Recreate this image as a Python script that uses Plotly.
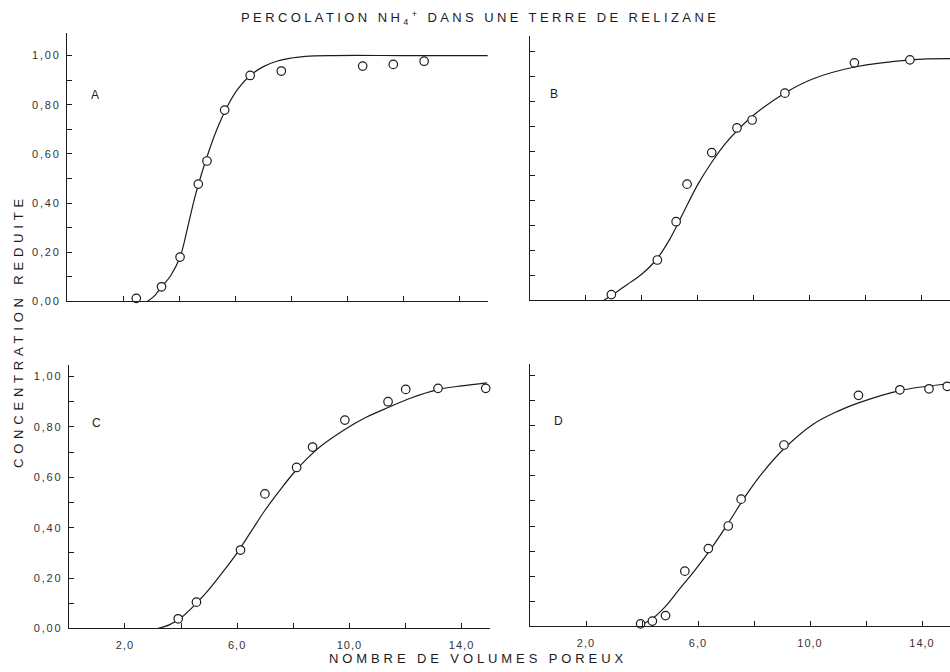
import plotly.graph_objects as go

# ---------------- data ----------------
panel_names = ["A", "B", "C", "D"]

# measured points (open circles)
A_pts_x = [2.47, 3.37, 4.03, 4.68, 4.99, 5.62, 6.53, 7.64, 10.54, 11.63, 12.73]
A_pts_y = [0.012, 0.059, 0.18, 0.477, 0.571, 0.778, 0.919, 0.937, 0.957, 0.964, 0.977]
B_pts_x = [2.92, 4.56, 5.23, 5.62, 6.50, 7.40, 7.94, 9.11, 11.59, 13.57]
B_pts_y = [0.023, 0.162, 0.316, 0.467, 0.594, 0.693, 0.725, 0.833, 0.955, 0.967]
C_pts_x = [3.90, 4.55, 6.12, 6.99, 8.12, 8.69, 9.84, 11.38, 12.01, 13.16, 14.86]
C_pts_y = [0.038, 0.104, 0.311, 0.534, 0.639, 0.720, 0.827, 0.900, 0.949, 0.953, 0.953]
D_pts_x = [3.95, 4.37, 4.84, 5.53, 6.37, 7.08, 7.54, 9.07, 11.73, 13.21, 14.25, 14.9]
D_pts_y = [0.01, 0.021, 0.043, 0.22, 0.31, 0.40, 0.507, 0.723, 0.921, 0.943, 0.947, 0.957]

# fitted curves
A_curve_x = [2.87, 3.1, 3.37, 3.7, 4.03, 4.3, 4.55, 4.8, 5.1, 5.4, 5.7, 6.1, 6.53, 7.0, 7.5, 8.0, 8.5, 9.5, 12.0, 15.0]
A_curve_y = [0.0, 0.02, 0.059, 0.105, 0.18, 0.30, 0.42, 0.52, 0.625, 0.715, 0.79, 0.865, 0.919, 0.955, 0.978, 0.99, 0.997, 1.0, 1.0, 1.0]
B_curve_x = [2.65, 3.0, 3.5, 4.0, 4.5, 5.0, 5.5, 6.0, 6.5, 7.0, 7.5, 8.0, 9.1, 10.1, 11.6, 13.6, 15.0]
B_curve_y = [0.0, 0.025, 0.065, 0.105, 0.16, 0.245, 0.355, 0.465, 0.555, 0.632, 0.693, 0.745, 0.833, 0.89, 0.938, 0.967, 0.972]
C_curve_x = [3.19, 3.6, 4.0, 4.55, 5.0, 5.5, 6.0, 6.5, 7.0, 7.5, 8.0, 8.5, 9.0, 9.84, 10.6, 11.4, 12.2, 13.16, 14.0, 14.9]
C_curve_y = [0.0, 0.015, 0.042, 0.1, 0.155, 0.225, 0.3, 0.385, 0.47, 0.545, 0.615, 0.675, 0.725, 0.79, 0.838, 0.878, 0.915, 0.948, 0.963, 0.975]
D_curve_x = [3.81, 4.3, 4.84, 5.35, 5.9, 6.5, 7.1, 7.7, 8.3, 9.07, 10.1, 11.0, 11.73, 13.21, 14.9]
D_curve_y = [0.0, 0.025, 0.08, 0.15, 0.225, 0.315, 0.415, 0.52, 0.612, 0.708, 0.805, 0.858, 0.891, 0.94, 0.966]

x_tick_vals = [2, 4, 6, 8, 10, 12, 14]
x_tick_text = ["2,0", "", "6,0", "", "10,0", "", "14,0"]
y_tick_vals = [0.0, 0.1, 0.2, 0.3, 0.4, 0.5, 0.6, 0.7, 0.8, 0.9, 1.0]
y_tick_text = ["0,00", "", "0,20", "", "0,40", "", "0,60", "", "0,80", "", "1,00"]

title_text = "PERCOLATION NH<sub>4</sub><sup>+</sup> DANS UNE TERRE DE RELIZANE"
y_title = "CONCENTRATION REDUITE"
x_title = "NOMBRE DE VOLUMES POREUX"

# ---------------- styling / geometry ----------------
INK = "#1c1c1c"
FONT = "Liberation Sans, Arial, sans-serif"


def spaced(t, px):
    return f'<span style="letter-spacing:{px}px">{t}</span>' if t else ""


panels = {
    "A": dict(pts=(A_pts_x, A_pts_y), curve=(A_curve_x, A_curve_y),
              xdom=[0.0705, 0.5135], ydom=[0.5476, 0.9509], ytop=1.093,
              xlabels=False, ylabels=True, lab=(95, 96)),
    "B": dict(pts=(B_pts_x, B_pts_y), curve=(B_curve_x, B_curve_y),
              xdom=[0.5574, 1.0], ydom=[0.5491, 0.9464], ytop=1.064,
              xlabels=False, ylabels=False, lab=(554, 95)),
    "C": dict(pts=(C_pts_x, C_pts_y), curve=(C_curve_x, C_curve_y),
              xdom=[0.0724, 0.5154], ydom=[0.0565, 0.4524], ytop=1.047,
              xlabels=True, ylabels=True, lab=(96, 427)),
    "D": dict(pts=(D_pts_x, D_pts_y), curve=(D_curve_x, D_curve_y),
              xdom=[0.5579, 1.0], ydom=[0.0595, 0.4539], ytop=1.047,
              xlabels=True, ylabels=False, lab=(558, 425)),
}

fig = go.Figure()
layout_axes = {}
annotations = []

for i, name in enumerate(panel_names, start=1):
    p = panels[name]
    xa = "x" if i == 1 else f"x{i}"
    ya = "y" if i == 1 else f"y{i}"
    cx, cy = p["curve"]
    px_, py_ = p["pts"]
    fig.add_trace(go.Scatter(x=cx, y=cy, mode="lines", xaxis=xa, yaxis=ya,
                             line=dict(color=INK, width=1.2, shape="spline", smoothing=1.0),
                             showlegend=False, hoverinfo="skip"))
    fig.add_trace(go.Scatter(x=px_, y=py_, mode="markers", xaxis=xa, yaxis=ya,
                             marker=dict(symbol="circle", size=8.5, color="white",
                                         line=dict(color=INK, width=1.2)),
                             cliponaxis=False, showlegend=False))
    xkey = "xaxis" if i == 1 else f"xaxis{i}"
    ykey = "yaxis" if i == 1 else f"yaxis{i}"
    layout_axes[xkey] = dict(
        domain=p["xdom"], range=[0, 15], anchor=ya,
        showgrid=False, zeroline=False, showline=True, linecolor=INK, linewidth=1.3,
        ticks="inside", ticklen=5, tickwidth=1.2, tickcolor=INK,
        tickvals=x_tick_vals,
        ticktext=[spaced(t, 1) for t in x_tick_text] if p["xlabels"] else [""] * len(x_tick_vals),
        tickfont=dict(family=FONT, size=11, color="#333"), ticklabelstandoff=6,
    )
    layout_axes[ykey] = dict(
        domain=p["ydom"], range=[0, p["ytop"]], anchor=xa,
        showgrid=False, zeroline=False, showline=True, linecolor=INK, linewidth=1.3,
        ticks="inside", ticklen=5, tickwidth=1.2, tickcolor=INK,
        tickvals=y_tick_vals,
        ticktext=[spaced(t, 1.8) for t in y_tick_text] if p["ylabels"] else [""] * len(y_tick_vals),
        tickfont=dict(family=FONT, size=11, color="#333"), ticklabelstandoff=3,
    )
    lx, ly = p["lab"]
    annotations.append(dict(text=name, x=lx / 950, y=1 - ly / 672, xref="paper", yref="paper",
                            xanchor="center", yanchor="middle", showarrow=False,
                            font=dict(family=FONT, size=12, color=INK)))

annotations.append(dict(
    text=spaced(title_text, 3.4),
    x=480 / 950, y=1 - 18 / 672, xref="paper", yref="paper", showarrow=False,
    xanchor="center", yanchor="middle",
    font=dict(family=FONT, size=13, color=INK)))
annotations.append(dict(
    text=spaced(y_title, 4.8),
    x=18 / 950, y=1 - 334 / 672, xref="paper", yref="paper", showarrow=False, textangle=-90,
    xanchor="center", yanchor="middle",
    font=dict(family=FONT, size=13, color=INK)))
annotations.append(dict(
    text=spaced(x_title, 3.9),
    x=478 / 950, y=1 - 664 / 672, xref="paper", yref="paper", showarrow=False,
    xanchor="center", yanchor="middle",
    font=dict(family=FONT, size=13, color=INK)))

fig.update_layout(
    width=950, height=672, margin=dict(l=0, r=0, t=0, b=0),
    paper_bgcolor="white", plot_bgcolor="white",
    annotations=annotations, showlegend=False,
    **layout_axes,
)

fig.write_html("out.html")
